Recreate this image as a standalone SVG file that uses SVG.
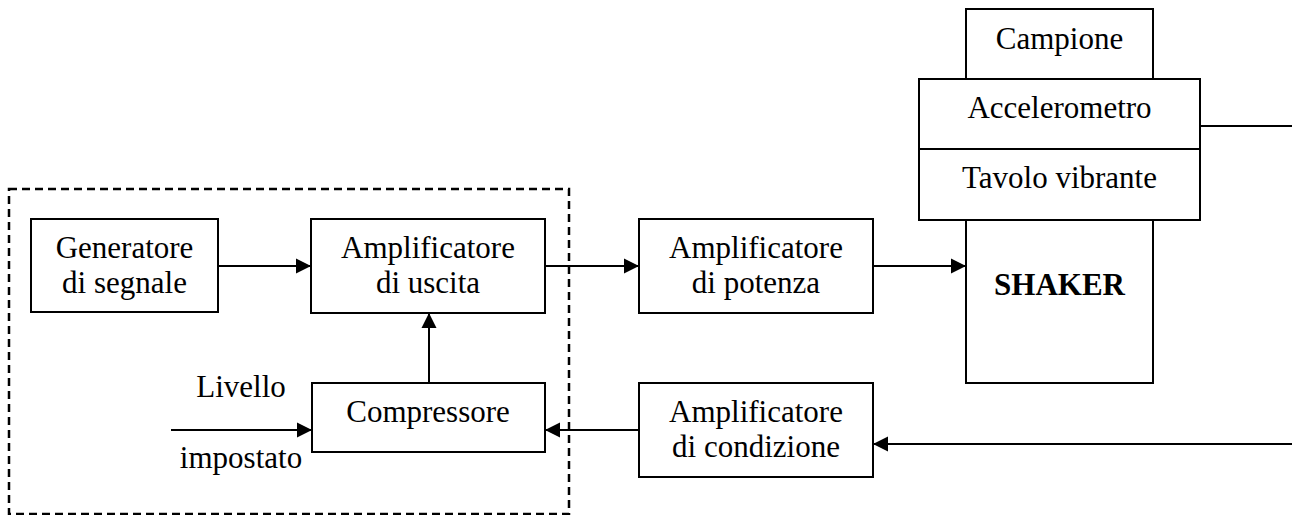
<svg xmlns="http://www.w3.org/2000/svg" width="1292" height="515" viewBox="0 0 1292 515">
  <style>
    .box { fill: #fff; stroke: #000; stroke-width: 2; }
    .lbl { font-family: "Liberation Serif", "Times New Roman", serif; font-size: 31px; fill: #000; text-anchor: middle; }
    .bold { font-weight: bold; }
    .wire { fill: none; stroke: #000; stroke-width: 2; }
    .arrow { marker-end: url(#head); }
    .frame { fill: none; stroke: #000; stroke-width: 2.5; stroke-dasharray: 8 5; }
  </style>
  <defs>
    <marker id="head" markerUnits="userSpaceOnUse" markerWidth="16" markerHeight="16" viewBox="0 0 16 16" refX="15" refY="8" orient="auto">
      <path d="M0,0.5 L15,8 L0,15.5 Z" fill="#000"/>
    </marker>
  </defs>

  <!-- dashed boundary of the control unit -->
  <rect id="control-unit" class="frame" x="9" y="189" width="560" height="325"/>

  <g id="connectors">
    <line class="wire arrow" x1="218" y1="266" x2="311" y2="266"/>
    <line class="wire arrow" x1="545" y1="266" x2="639" y2="266"/>
    <line class="wire arrow" x1="873" y1="266" x2="966" y2="266"/>
    <line class="wire arrow" x1="429" y1="383" x2="429" y2="313"/>
    <line class="wire arrow" x1="171" y1="430" x2="312" y2="430"/>
    <line class="wire arrow" x1="639" y1="430" x2="545" y2="430"/>
    <line class="wire" x1="1200" y1="126" x2="1292" y2="126"/>
    <line class="wire arrow" x1="1292" y1="444" x2="873" y2="444"/>
  </g>

  <g id="generatore">
    <rect class="box" x="31" y="219" width="187" height="93"/>
    <text class="lbl" x="124.5" y="258">Generatore</text>
    <text class="lbl" x="124.5" y="293">di segnale</text>
  </g>

  <g id="amp-uscita">
    <rect class="box" x="311" y="219" width="234" height="94"/>
    <text class="lbl" x="428" y="258">Amplificatore</text>
    <text class="lbl" x="428" y="293">di uscita</text>
  </g>

  <g id="compressore">
    <rect class="box" x="312" y="383" width="233" height="69"/>
    <text class="lbl" x="428" y="422">Compressore</text>
  </g>

  <g id="livello">
    <text class="lbl" x="241" y="397">Livello</text>
    <text class="lbl" x="241" y="468">impostato</text>
  </g>

  <g id="amp-potenza">
    <rect class="box" x="639" y="219" width="234" height="94"/>
    <text class="lbl" x="756" y="258">Amplificatore</text>
    <text class="lbl" x="756" y="293">di potenza</text>
  </g>

  <g id="amp-condizione">
    <rect class="box" x="639" y="383" width="234" height="94"/>
    <text class="lbl" x="756" y="422">Amplificatore</text>
    <text class="lbl" x="756" y="457">di condizione</text>
  </g>

  <g id="campione">
    <rect class="box" x="966" y="9" width="187" height="70"/>
    <text class="lbl" x="1059.5" y="49">Campione</text>
  </g>

  <g id="accelerometro">
    <rect class="box" x="919" y="79" width="281" height="70"/>
    <text class="lbl" x="1059.5" y="118">Accelerometro</text>
  </g>

  <g id="tavolo">
    <rect class="box" x="919" y="149" width="281" height="71"/>
    <text class="lbl" x="1059.5" y="188">Tavolo vibrante</text>
  </g>

  <g id="shaker">
    <rect class="box" x="966" y="220" width="187" height="163"/>
    <text class="lbl bold" x="1059.5" y="295">SHAKER</text>
  </g>
</svg>
